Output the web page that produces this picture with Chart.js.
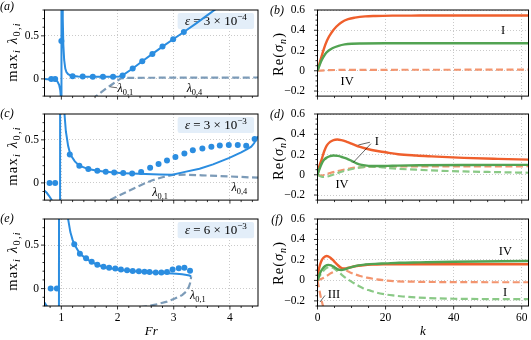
<!DOCTYPE html>
<html>
<head>
<meta charset="utf-8">
<title>Growth rate panels</title>
<script src="https://cdn.jsdelivr.net/npm/chart.js@4.4.1/dist/chart.umd.min.js"></script>
<style>
  html, body { margin: 0; padding: 0; background: #fff; }
  #fig { position: relative; width: 531px; height: 340px; overflow: hidden; }
  .panel { position: absolute; }
  .panel canvas { display: block; }
</style>
</head>
<body>
<div id="fig"></div>
<script>
// ─── tick values ──────────────────────────────────────────────────────────
var frTicks  = [1, 2, 3, 4];
var lamTicks = [0, 0.5];
var kTicks   = [0, 20, 40, 60];
var sigTicks = [-0.2, 0, 0.2, 0.4, 0.6];

// ─── (a) eps = 3e-4 ───────────────────────────────────────────────────────
var aLineFr  = [0.70, 0.80, 0.88, 0.93, 0.96, 0.98, 0.99, 0.997, 1.000, 1.004, 1.015, 1.025, 1.035, 1.05, 1.07, 1.09, 1.12, 1.16, 1.20, 1.30, 1.45, 1.60, 1.80, 1.95, 2.03, 2.09, 2.27, 2.44, 2.62, 2.80, 2.99, 3.18, 3.40, 3.60, 3.80];
var aLineVal = [-0.002, -0.006, -0.015, -0.03, -0.07, -0.13, -0.2, -0.5, -3.0, 3.0, 1.2, 0.7, 0.4, 0.22, 0.12, 0.08, 0.055, 0.04, 0.033, 0.028, 0.026, 0.025, 0.025, 0.026, 0.028, 0.04, 0.12, 0.205, 0.29, 0.375, 0.46, 0.545, 0.645, 0.74, 0.835];
var aDotFr   = [0.82, 0.89, 1.00, 1.20, 1.38, 1.56, 1.74, 1.92, 2.09, 2.27, 2.44, 2.62, 2.80, 2.99, 3.18];
var aDotVal  = [0.0, 0.0, 0.44, 0.03, 0.027, 0.025, 0.025, 0.026, 0.04, 0.12, 0.205, 0.29, 0.375, 0.46, 0.545];
var aDashFr  = [1.55, 1.62, 1.70, 1.80, 1.90, 2.00, 2.06, 2.15, 2.50, 3.00, 3.50, 4.00, 4.50];
var aDashVal = [-0.24, -0.2, -0.16, -0.11, -0.065, -0.02, 0.006, 0.012, 0.013, 0.014, 0.015, 0.015, 0.016];

// ─── (c) eps = 3e-3 ───────────────────────────────────────────────────────
var cLineFr  = [0.70, 0.74, 0.78, 0.82, 0.85, 0.90, 0.95, 0.975, 0.980, 1.00, 1.03, 1.05, 1.08, 1.12, 1.16, 1.24, 1.32, 1.48, 1.64, 1.79, 1.94, 2.10, 2.26, 2.50, 2.75, 2.98, 3.20, 3.46, 3.70, 3.99, 4.20, 4.30, 4.38, 4.43, 4.47, 4.50];
var cLineVal = [-0.09, -0.115, -0.15, -0.19, -0.23, -0.4, -1.0, -4.0, 4.0, 2.5, 1.2, 0.85, 0.6, 0.43, 0.33, 0.25, 0.2, 0.16, 0.14, 0.128, 0.12, 0.113, 0.108, 0.102, 0.097, 0.094, 0.128, 0.165, 0.215, 0.29, 0.355, 0.39, 0.42, 0.46, 0.51, 0.54];
var cDotFr   = [0.79, 0.89, 1.15, 1.32, 1.48, 1.64, 1.79, 1.94, 2.10, 2.26, 2.42, 2.58, 2.73, 2.88, 3.03, 3.19, 3.34, 3.51, 3.67, 3.82, 3.98, 4.14, 4.29, 4.44];
var cDotVal  = [0, 0, 0.33, 0.20, 0.16, 0.14, 0.13, 0.12, 0.115, 0.11, 0.125, 0.175, 0.22, 0.26, 0.30, 0.34, 0.38, 0.40, 0.42, 0.435, 0.44, 0.44, 0.43, 0.51];
var cDashFr  = [1.70, 1.86, 2.00, 2.27, 2.45, 2.62, 2.80, 2.98, 3.20, 3.50, 4.00, 4.50];
var cDashVal = [-0.25, -0.2, -0.155, -0.07, -0.015, 0.03, 0.066, 0.093, 0.095, 0.088, 0.075, 0.06];

// ─── (e) eps = 6e-3 ───────────────────────────────────────────────────────
var eLineFr  = [0.70, 0.72, 0.74, 0.78, 0.85, 0.92, 0.955, 0.960, 1.05, 1.12, 1.16, 1.20, 1.23, 1.33, 1.44, 1.54, 1.64, 1.74, 1.84, 1.95, 2.10, 2.30, 2.50, 2.70, 2.90, 3.05, 3.15, 3.23, 3.28, 3.31];
var eLineVal = [-0.16, -0.18, -0.2, -0.27, -0.5, -1.2, -4.0, 4.0, 1.5, 0.8, 0.65, 0.56, 0.51, 0.40, 0.345, 0.305, 0.275, 0.252, 0.237, 0.225, 0.212, 0.2, 0.19, 0.183, 0.176, 0.17, 0.164, 0.157, 0.15, 0.14];
var eDotFr   = [0.81, 0.92, 1.23, 1.33, 1.44, 1.54, 1.64, 1.75, 1.85, 1.96, 2.06, 2.17, 2.27, 2.38, 2.48, 2.57, 2.68, 2.78, 2.88, 2.98, 3.09, 3.19, 3.29];
var eDotVal  = [0, 0, 0.51, 0.40, 0.35, 0.31, 0.275, 0.25, 0.24, 0.23, 0.22, 0.21, 0.203, 0.20, 0.193, 0.19, 0.185, 0.185, 0.19, 0.22, 0.235, 0.24, 0.205];
var eDashFr  = [2.40, 2.55, 2.70, 2.88, 3.02, 3.15, 3.22, 3.27, 3.30, 3.31];
var eDashVal = [-0.215, -0.2, -0.18, -0.15, -0.115, -0.075, -0.035, 0.02, 0.08, 0.14];

// ─── (b) Re(sigma_n) vs k ─────────────────────────────────────────────────
var bOrK     = [0, 0.5, 1, 1.8, 2.8, 4.2, 5.5, 7.1, 9, 11, 14, 17, 22, 30, 45, 62];
var bOrVal   = [0, 0.06, 0.12, 0.21, 0.3, 0.38, 0.435, 0.48, 0.51, 0.525, 0.537, 0.541, 0.544, 0.545, 0.546, 0.546];
var bGrK     = [0, 0.5, 1, 1.8, 2.5, 3.3, 4.5, 6.2, 8, 10, 13, 20, 62];
var bGrVal   = [0, 0.045, 0.09, 0.14, 0.175, 0.2, 0.225, 0.246, 0.26, 0.267, 0.27, 0.272, 0.272];
var bOrDK    = [0, 3, 10, 30, 62];
var bOrDVal  = [0, 0.006, 0.009, 0.01, 0.011];

// ─── (d) ──────────────────────────────────────────────────────────────────
var dOrK     = [0, 0.5, 1.3, 2, 2.75, 3.7, 4.7, 5.8, 7, 8.6, 10.5, 12.5, 15.9, 20, 23.7, 29, 33.5, 43, 53, 62];
var dOrVal   = [0, 0.08, 0.16, 0.235, 0.29, 0.325, 0.343, 0.348, 0.342, 0.325, 0.3, 0.275, 0.245, 0.222, 0.203, 0.19, 0.182, 0.167, 0.157, 0.15];
var dGrK     = [0, 0.5, 1.3, 2, 2.75, 3.7, 4.7, 6, 7.5, 8.6, 10, 11.5, 13, 15, 18, 22, 30, 45, 62];
var dGrVal   = [0, 0.05, 0.115, 0.15, 0.17, 0.185, 0.19, 0.186, 0.172, 0.16, 0.138, 0.113, 0.097, 0.088, 0.086, 0.089, 0.094, 0.097, 0.098];
var dOrDK    = [0, 1, 2, 3.7, 5.5, 7.6, 9.5, 11.5, 14.4, 18, 25, 40, 62];
var dOrDVal  = [0, -0.008, -0.002, 0.017, 0.034, 0.05, 0.062, 0.072, 0.078, 0.08, 0.082, 0.083, 0.084];
var dGrDK    = [0, 1, 1.8, 2.8, 3.7, 5.5, 7.6, 9.5, 11.5, 13.5, 15.4, 17.5, 19.3, 23.2, 29, 33.5, 43, 53, 62];
var dGrDVal  = [0, -0.017, -0.022, -0.018, -0.01, 0.012, 0.035, 0.052, 0.066, 0.076, 0.08, 0.078, 0.072, 0.06, 0.05, 0.043, 0.033, 0.026, 0.02];

// ─── (f) ──────────────────────────────────────────────────────────────────
var fOrK     = [0, 0.3, 0.8, 1.3, 1.8, 2.7, 3.7, 4.5, 5.2, 6, 6.8, 7.6, 8.5, 9.6, 11, 13.5, 16, 19.3, 25, 35, 50, 62];
var fOrVal   = [0, 0.09, 0.16, 0.2, 0.222, 0.238, 0.225, 0.2, 0.175, 0.148, 0.127, 0.116, 0.118, 0.128, 0.138, 0.148, 0.154, 0.157, 0.158, 0.158, 0.158, 0.158];
var fGrK     = [0, 0.4, 0.8, 1.5, 2.25, 3.2, 4, 4.7, 5.5, 6.2, 7, 8, 9, 10.5, 12, 14, 17, 20, 24, 30, 40, 62];
var fGrVal   = [0, 0.04, 0.075, 0.115, 0.14, 0.152, 0.148, 0.135, 0.118, 0.105, 0.102, 0.108, 0.12, 0.135, 0.147, 0.155, 0.162, 0.166, 0.172, 0.176, 0.182, 0.19];
var fOrDK    = [0, 1, 1.8, 2.8, 3.7, 4.7, 5.6, 6.5, 7.3, 8.3, 9.6, 11, 12.5, 14.5, 17.4, 20, 22.2, 29, 40, 62];
var fOrDVal  = [0, 0.013, 0.026, 0.046, 0.066, 0.083, 0.097, 0.105, 0.107, 0.098, 0.078, 0.06, 0.043, 0.027, 0.01, 0.0, -0.007, -0.013, -0.017, -0.018];
var fIIIK    = [0, 0.4, 0.8, 1.2, 1.5, 1.8, 2.1];
var fIIIVal  = [0, -0.07, -0.137, -0.195, -0.235, -0.27, -0.31];
var fGrDK    = [0, 0.6, 1.3, 2, 2.75, 3.7, 4.5, 5.2, 6.3, 7.6, 9, 10.5, 12, 13.5, 15.5, 17.4, 20, 22.2, 25, 29, 35, 40, 50, 62];
var fGrDVal  = [0, 0.04, 0.075, 0.105, 0.124, 0.13, 0.124, 0.108, 0.08, 0.042, 0.008, -0.023, -0.052, -0.078, -0.1, -0.12, -0.137, -0.147, -0.157, -0.167, -0.175, -0.179, -0.182, -0.183];

(function () {
  'use strict';

  var FONT = "'Liberation Serif', 'Times New Roman', serif";
  var BLUE = '#2b8de0', GREYBLUE = '#7c9bb8';
  var ORANGE = '#ef5f2c', GREEN = '#52a352', ORANGE_LT = '#f3956f', GREEN_LT = '#8ac986';

  // ─── layout (figure pixels) ─────────────────────────────────────────────
  var LEFT_COL  = { x: 0,   plotX: 44.5,  plotW: 214, padR: 3.5, yGap: 5.5 };
  var RIGHT_COL = { x: 263, plotX: 317.5, plotW: 211, padR: 2.5, yGap: 12.5 };
  var ROW_TOP = [10, 114, 219];
  var PLOT_H = 87, PAD_TOP = 10;

  Chart.defaults.font.family = FONT;
  Chart.defaults.color = '#000';

  function pts(xs, ys) {
    return xs.map(function (x, i) { return { x: x, y: ys[i] }; });
  }
  function line(xs, ys, color, width, dash, smooth) {
    return {
      data: pts(xs, ys), showLine: true, borderColor: color, backgroundColor: color,
      borderWidth: width, borderDash: dash || [], pointRadius: 0, fill: false,
      tension: 0, cubicInterpolationMode: smooth ? 'monotone' : 'default'
    };
  }
  function dots(xs, ys, color) {
    return {
      data: pts(xs, ys), showLine: false, pointRadius: 3, pointBorderWidth: 0,
      pointBackgroundColor: color, backgroundColor: color, borderColor: color
    };
  }
  function fmtTick(v) {
    if (Math.abs(v) < 1e-9) return '0';
    var s = String(Math.round(Math.abs(v) * 10) / 10);
    return v < 0 ? '\u2212' + s : s;
  }
  function stepValues(min, max, step) {
    var out = [], i0 = Math.ceil(min / step - 1e-6), i1 = Math.floor(max / step + 1e-6);
    for (var i = i0; i <= i1; i++) out.push(+(i * step).toFixed(6));
    return out;
  }

  // ─── rich text (sub / superscripts) ─────────────────────────────────────
  function drawRich(ctx, parts, x, y, size, align, spacing) {
    ctx.letterSpacing = (spacing || 0) + 'px';
    var segs = parts.map(function (p) {
      var s = (p.sub || p.sup) ? size * 0.7 : size;
      var f = (p.it ? 'italic ' : '') + s.toFixed(1) + 'px ' + FONT;
      ctx.font = f;
      return { t: p.t, f: f, w: ctx.measureText(p.t).width, dy: p.sub ? size * 0.24 : (p.sup ? -size * 0.42 : 0) };
    });
    var total = 0;
    segs.forEach(function (g) { total += g.w; });
    var cx = align === 'left' ? x : (align === 'right' ? x - total : x - total / 2);
    var base = y + size * 0.33;
    ctx.textAlign = 'left';
    ctx.textBaseline = 'alphabetic';
    ctx.fillStyle = '#000';
    segs.forEach(function (g) { ctx.font = g.f; ctx.fillText(g.t, cx, base + g.dy); cx += g.w; });
    ctx.letterSpacing = '0px';
  }

  // ─── decorations: frame, minor ticks, labels, boxes ─────────────────────
  var decor = {
    id: 'decor',
    beforeDatasetsDraw: function (chart, args, o) {
      if (!o.box) return;
      var ctx = chart.ctx, sx = chart.scales.x, sy = chart.scales.y, b = o.box;
      var x0 = sx.getPixelForValue(b.x0), x1 = sx.getPixelForValue(b.x1);
      var y0 = sy.getPixelForValue(b.y1), y1 = sy.getPixelForValue(b.y0);
      ctx.save();
      ctx.fillStyle = '#e3eef9';
      ctx.beginPath();
      ctx.roundRect(x0, y0, x1 - x0, y1 - y0, 2);
      ctx.fill();
      drawRich(ctx, b.parts, (x0 + x1) / 2, (y0 + y1) / 2, 13, 'center');
      ctx.restore();
    },
    afterDraw: function (chart, args, o) {
      var ctx = chart.ctx, a = chart.chartArea, sx = chart.scales.x, sy = chart.scales.y;
      ctx.save();
      ctx.strokeStyle = '#000';
      ctx.lineWidth = 0.8;
      ctx.beginPath();
      stepValues(sx.min, sx.max, o.xMinor).forEach(function (v) {
        var len = o.xMajor.indexOf(v) >= 0 ? 3.5 : 2;
        var px = sx.getPixelForValue(v);
        ctx.moveTo(px, a.bottom); ctx.lineTo(px, a.bottom + len);
      });
      stepValues(sy.min, sy.max, o.yMinor).forEach(function (v) {
        var len = o.yMajor.indexOf(v) >= 0 ? 3.5 : 2;
        var py = sy.getPixelForValue(v);
        ctx.moveTo(a.left, py); ctx.lineTo(a.left - len, py);
      });
      ctx.stroke();
      ctx.lineWidth = 1;
      ctx.strokeRect(a.left, a.top, a.right - a.left, a.bottom - a.top);

      ctx.lineWidth = 0.6;
      (o.leaders || []).forEach(function (l) {
        ctx.beginPath();
        ctx.moveTo(sx.getPixelForValue(l[0]), sy.getPixelForValue(l[1]));
        ctx.lineTo(sx.getPixelForValue(l[2]), sy.getPixelForValue(l[3]));
        ctx.stroke();
      });
      (o.labels || []).forEach(function (l) {
        drawRich(ctx, l.parts, sx.getPixelForValue(l.x), sy.getPixelForValue(l.y), l.size || 12, l.align || 'center');
      });
      if (o.letter) {
        drawRich(ctx, [{ t: o.letter.t, it: true }], o.letter.x - o.offX, o.letter.y - o.offY, 12, 'center');
      }
      if (o.ytitle) {
        ctx.translate(o.ytitle.x - o.offX, o.ytitle.y - o.offY);
        ctx.rotate(-Math.PI / 2);
        drawRich(ctx, o.ytitle.parts, 0, 0, o.ytitle.size, 'center', o.ytitle.spacing);
      }
      ctx.restore();
    }
  };

  // ─── panel factory ──────────────────────────────────────────────────────
  function makePanel(p) {
    var col = p.col;
    var xAxisH = p.xTitle ? 34 : 6;
    var yAxisW = col.plotX - col.x;
    var top = ROW_TOP[p.row] - PAD_TOP;
    var w = Math.round(yAxisW + col.plotW + col.padR);
    var h = PAD_TOP + PLOT_H + xAxisH;

    var div = document.createElement('div');
    div.className = 'panel';
    div.style.left = col.x + 'px';
    div.style.top = top + 'px';
    var canvas = document.createElement('canvas');
    canvas.width = w; canvas.height = h;
    canvas.style.width = w + 'px'; canvas.style.height = h + 'px';
    div.appendChild(canvas);
    document.getElementById('fig').appendChild(div);

    var gridOpts = function (gap) {
      return { color: '#bdbdbd', lineWidth: 0.8, drawTicks: true, tickLength: gap, tickColor: 'rgba(0,0,0,0)' };
    };

    return new Chart(canvas, {
      type: 'scatter',
      data: { datasets: p.datasets },
      options: {
        responsive: false,
        devicePixelRatio: 1,
        animation: false,
        events: [],
        layout: { padding: { top: PAD_TOP, right: col.padR, left: 0, bottom: 0 } },
        plugins: {
          legend: { display: false },
          tooltip: { enabled: false },
          decor: {
            offX: col.x, offY: top,
            xMajor: p.xMajor, yMajor: p.yMajor, xMinor: p.xMinor, yMinor: p.yMinor,
            letter: p.letter, ytitle: p.ytitle, labels: p.labels, leaders: p.leaders, box: p.box
          }
        },
        scales: {
          x: {
            type: 'linear', min: p.xr[0], max: p.xr[1],
            afterBuildTicks: function (s) { s.ticks = p.xMajor.map(function (v) { return { value: v }; }); },
            afterFit: function (s) { s.height = xAxisH; },
            grid: gridOpts(5),
            border: { display: false, dash: [1, 2] },
            ticks: { display: !!p.xTitle, padding: 0, autoSkip: false, maxRotation: 0, font: { size: 11.5 }, callback: fmtTick },
            title: {
              display: !!p.xTitle, text: p.xTitle || '',
              font: { size: 13, style: 'italic' }, padding: { top: 0, bottom: 0.5 }
            }
          },
          y: {
            type: 'linear', min: p.yr[0], max: p.yr[1],
            afterBuildTicks: function (s) { s.ticks = p.yMajor.map(function (v) { return { value: v }; }); },
            afterFit: function (s) { s.width = yAxisW; },
            grid: gridOpts(col.yGap),
            border: { display: false, dash: [1, 2] },
            ticks: { padding: 0, autoSkip: false, font: { size: 11.5 }, callback: fmtTick }
          }
        }
      },
      plugins: [decor]
    });
  }

  // ─── shared pieces ──────────────────────────────────────────────────────
  var lamTitle = [{ t: 'max' }, { t: 'i', sub: true, it: true }, { t: ' \u03bb', it: true }, { t: '0,', sub: true }, { t: 'i', sub: true, it: true }];
  var sigTitle = [{ t: 'Re(' }, { t: '\u03c3', it: true }, { t: 'n', sub: true, it: true }, { t: ')' }];
  function lam(sub) { return [{ t: '\u03bb', it: true }, { t: sub, sub: true }]; }
  function eps(m, e) { return [{ t: '\u03b5', it: true }, { t: ' = ' + m + ' \u00d7 10' }, { t: e, sup: true }]; }
  function roman(t, x, y) { return { parts: [{ t: t }], x: x, y: y, size: 12.5 }; }

  var DASH = [7, 3.5];

  function leftPanel(row, letter, epsParts, datasets, labels, leaders, xTitle) {
    makePanel({
      col: LEFT_COL, row: row, xr: [0.7, 4.5], yr: [-0.2, 0.8],
      xMajor: frTicks, yMajor: lamTicks, xMinor: 0.2, yMinor: 0.1,
      datasets: datasets, labels: labels, leaders: leaders, xTitle: xTitle,
      letter: { t: letter, x: 7, y: ROW_TOP[row] - (row === 0 ? 4 : 1) },
      ytitle: { parts: lamTitle, x: 12, y: ROW_TOP[row] + 42, size: 14.5, spacing: 1.3 },
      box: { x0: 3.07, x1: 4.43, y0: 0.58, y1: 0.765, parts: epsParts }
    });
  }
  function rightPanel(row, letter, datasets, labels, leaders, xTitle) {
    makePanel({
      col: RIGHT_COL, row: row, xr: [0, 62], yr: [-0.25, 0.6],
      xMajor: kTicks, yMajor: sigTicks, xMinor: 5, yMinor: 0.05,
      datasets: datasets, labels: labels, leaders: leaders, xTitle: xTitle,
      letter: { t: letter, x: 277, y: ROW_TOP[row] + 0.5 },
      ytitle: { parts: sigTitle, x: 278, y: ROW_TOP[row] + 44, size: 14.5, spacing: 1 }
    });
  }

  // ─── left column ────────────────────────────────────────────────────────
  leftPanel(0, '(a)', eps('3', '\u22124'), [
    dots(aDotFr, aDotVal, BLUE),
    line(aLineFr, aLineVal, BLUE, 2),
    line(aDashFr, aDashVal, GREYBLUE, 2.2, DASH)
  ], [
    { parts: lam('0,1'), x: 2.0, y: -0.108, align: 'left', size: 12 },
    { parts: lam('0,4'), x: 3.23, y: -0.108, align: 'left', size: 12 }
  ], [[1.87, -0.093, 1.99, -0.103]]);

  leftPanel(1, '(c)', eps('3', '\u22123'), [
    dots(cDotFr, cDotVal, BLUE),
    line(cLineFr, cLineVal, BLUE, 2),
    line(cDashFr, cDashVal, GREYBLUE, 2.2, DASH)
  ], [
    { parts: lam('0,1'), x: 2.62, y: -0.108, align: 'left', size: 12 },
    { parts: lam('0,4'), x: 4.03, y: -0.05, align: 'left', size: 12 }
  ], []);

  leftPanel(2, '(e)', eps('6', '\u22123'), [
    dots(eDotFr, eDotVal, BLUE),
    line(eLineFr, eLineVal, BLUE, 2),
    line(eDashFr, eDashVal, GREYBLUE, 2.2, DASH)
  ], [
    { parts: lam('0,1'), x: 3.29, y: -0.074, align: 'left', size: 12 }
  ], [], 'Fr');

  // ─── right column ───────────────────────────────────────────────────────
  rightPanel(0, '(b)', [
    line(bGrK, bGrVal, GREEN, 2.4, null, true),
    line(bOrK, bOrVal, ORANGE, 2.4, null, true),
    line(bOrDK, bOrDVal, ORANGE_LT, 2.2, DASH, true)
  ], [roman('I', 54.5, 0.4), roman('IV', 8.7, -0.096)], []);

  rightPanel(1, '(d)', [
    line(dGrK, dGrVal, GREEN, 2.4, null, true),
    line(dGrDK, dGrDVal, GREEN_LT, 2.2, DASH, true),
    line(dOrK, dOrVal, ORANGE, 2.4, null, true),
    line(dOrDK, dOrDVal, ORANGE_LT, 2.2, DASH, true)
  ], [roman('I', 17.4, 0.331), roman('IV', 7.2, -0.092)],
  [[15.4, 0.321, 12, 0.294], [15.7, 0.307, 10.5, 0.121]]);

  rightPanel(2, '(f)', [
    line(fGrK, fGrVal, GREEN, 2.4, null, true),
    line(fOrK, fOrVal, ORANGE, 2.4, null, true),
    line(fGrDK, fGrDVal, GREEN_LT, 2.2, DASH, true),
    line(fOrDK, fOrDVal, ORANGE_LT, 2.2, DASH, true),
    line(fIIIK, fIIIVal, ORANGE_LT, 2.2, DASH, true)
  ], [roman('IV', 55.2, 0.292), roman('I', 55.1, -0.109), roman('III', 4.85, -0.133)],
  [[2.2, -0.147, 0.73, -0.211]], 'k');
})();
</script>
</body>
</html>
